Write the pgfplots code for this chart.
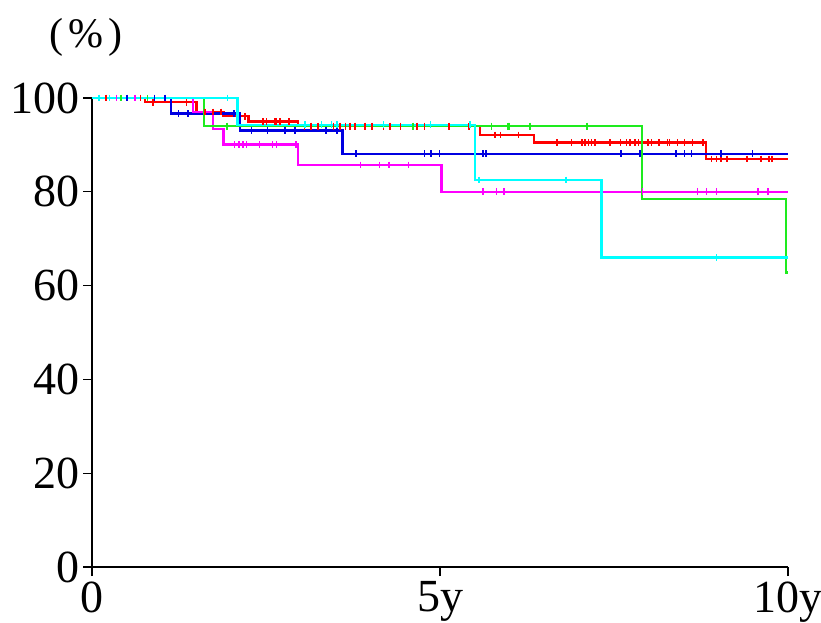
\documentclass[border=0pt]{standalone}
\usepackage{fontspec}
\setmainfont{Liberation Serif}
\usepackage{pgfplots}
\pgfplotsset{compat=1.18}
\definecolor{kmred}{RGB}{255,0,0}
\definecolor{kmblue}{RGB}{0,0,225}
\definecolor{kmgreen}{RGB}{30,235,30}
\definecolor{kmcyan}{RGB}{0,255,255}
\definecolor{kmmag}{RGB}{255,0,255}
\begin{document}
\begin{tikzpicture}
\useasboundingbox (-92pt,-55pt) rectangle (729pt,567pt);
\begin{axis}[
  at={(0,0)}, anchor=south west,
  scale only axis, width=696pt, height=469pt,
  xmin=0, xmax=10, ymin=0, ymax=100,
  axis lines=left, axis line style={-, line width=1.6pt, black},
  xtick={0,5,10}, xticklabels={0,5y,10y},
  ytick={0,20,40,60,80,100}, yticklabels={0,20,40,60,80,100},
  tick align=outside, major tick length=9pt,
  tick style={black, line width=1.3pt},
  ticklabel style={font=\fontsize{46}{46}\selectfont},
  xticklabel style={yshift=-2pt},
  clip=false,
  mark size=3.4pt,
]
% red
\addplot[const plot, color=kmred, line width=2.3pt] coordinates {
 (0,100) (0.76,99.1) (1.50,97.0) (1.89,96.1) (2.25,95.0) (2.96,94.0)
 (5.57,92.1) (6.35,90.5) (8.82,87.0) (10,87.0)};
\addplot[only marks, mark=|, color=kmred, mark options={line width=1.5pt}] coordinates {
 (0.20,100) (0.70,100)
 (0.88,99.1) (1.36,99.1)
 (1.62,97.0) (1.74,97.0) (1.85,97.0)
 (2.20,96.1)
 (2.46,95.0) (2.51,95.0) (2.63,95.0) (2.65,95.0) (2.70,95.0) (2.83,95.0)
 (3.05,94.0) (3.15,94.0) (3.25,94.0) (3.47,94.0) (3.56,94.0) (3.64,94.0) (3.71,94.0) (3.78,94.0)
 (3.92,94.0) (4.02,94.0) (4.19,94.0) (4.28,94.0) (4.43,94.0) (4.67,94.0) (4.78,94.0)
 (5.13,94.0) (5.42,94.0)
 (5.79,92.1) (5.87,92.1) (6.13,92.1)
 (6.68,90.5) (6.89,90.5) (7.04,90.5) (7.08,90.5) (7.13,90.5) (7.18,90.5) (7.23,90.5)
 (7.44,90.5) (7.59,90.5) (7.68,90.5) (7.73,90.5) (7.80,90.5) (7.85,90.5) (7.99,90.5)
 (8.04,90.5) (8.15,90.5) (8.27,90.5) (8.30,90.5) (8.41,90.5) (8.51,90.5) (8.63,90.5) (8.78,90.5)
 (8.90,87.0) (8.97,87.0) (9.04,87.0) (9.12,87.0) (9.41,87.0) (9.61,87.0) (9.73,87.0) (9.76,87.0) (9.78,87.0)};
% blue
\addplot[const plot, color=kmblue, line width=2.3pt] coordinates {
 (0,100) (1.14,96.7) (2.13,93.1) (3.60,88.1) (10,88.1)};
\addplot[only marks, mark=|, color=kmblue, mark options={line width=1.5pt}] coordinates {
 (0.50,100) (0.90,100) (1.05,100)
 (1.24,96.7) (1.38,96.7) (2.03,96.7) (2.05,96.7)
 (2.29,93.1) (2.52,93.1) (2.77,93.1) (2.92,93.1) (3.36,93.1) (3.52,93.1)
 (3.79,88.1) (4.78,88.1) (4.87,88.1) (4.99,88.1) (5.62,88.1) (5.66,88.1)
 (7.60,88.1) (7.87,88.1) (8.39,88.1) (8.51,88.1) (8.61,88.1) (9.04,88.1) (9.49,88.1)};
% magenta
\addplot[const plot, color=kmmag, line width=2.3pt] coordinates {
 (0,100) (1.45,97.0) (1.74,93.4) (1.89,90.1) (2.96,85.7) (5.02,80.0) (10,80.0)};
\addplot[only marks, mark=|, color=kmmag, mark options={line width=1.5pt}] coordinates {
 (0.35,100) (0.62,100)
 (2.05,90.1) (2.11,90.1) (2.17,90.1) (2.22,90.1) (2.41,90.1) (2.59,90.1) (2.65,90.1) (2.93,90.1)
 (3.86,85.7) (4.13,85.7) (4.27,85.7) (4.55,85.7)
 (5.62,80.0) (5.81,80.0) (5.92,80.0) (7.91,80.0) (8.70,80.0) (8.83,80.0) (8.97,80.0) (9.57,80.0) (9.71,80.0)};
% green
\addplot[const plot, color=kmgreen, line width=2.3pt] coordinates {
 (0,100) (1.61,94.0) (7.90,78.4) (9.97,62.8) (10,62.8)};
\addplot[only marks, mark=|, color=kmgreen, mark options={line width=1.5pt}] coordinates {
 (0.42,100) (0.80,100)
 (1.94,94.0) (4.61,94.0) (5.74,94.0) (5.98,94.0) (6.00,94.0) (6.29,94.0) (7.11,94.0)};
% cyan
\addplot[const plot, color=kmcyan, line width=2.3pt] coordinates {
 (0,100) (2.09,94.3) (5.50,82.5) (7.32,66.0) (10,66.0)};
\addplot[only marks, mark=|, color=kmcyan, mark options={line width=1.5pt}] coordinates {
 (0.10,100) (0.25,100) (1.95,100)
 (3.06,94.3) (3.30,94.3) (3.44,94.3) (3.52,94.3) (4.19,94.3) (4.86,94.3) (5.43,94.3)
 (5.56,82.5) (6.81,82.5) (8.97,66.0)};
\end{axis}
\node[font=\fontsize{42}{42}\selectfont, inner sep=0pt] at (-6pt,530pt) {(\kern5pt\%\kern5pt)};
\end{tikzpicture}
\end{document}
